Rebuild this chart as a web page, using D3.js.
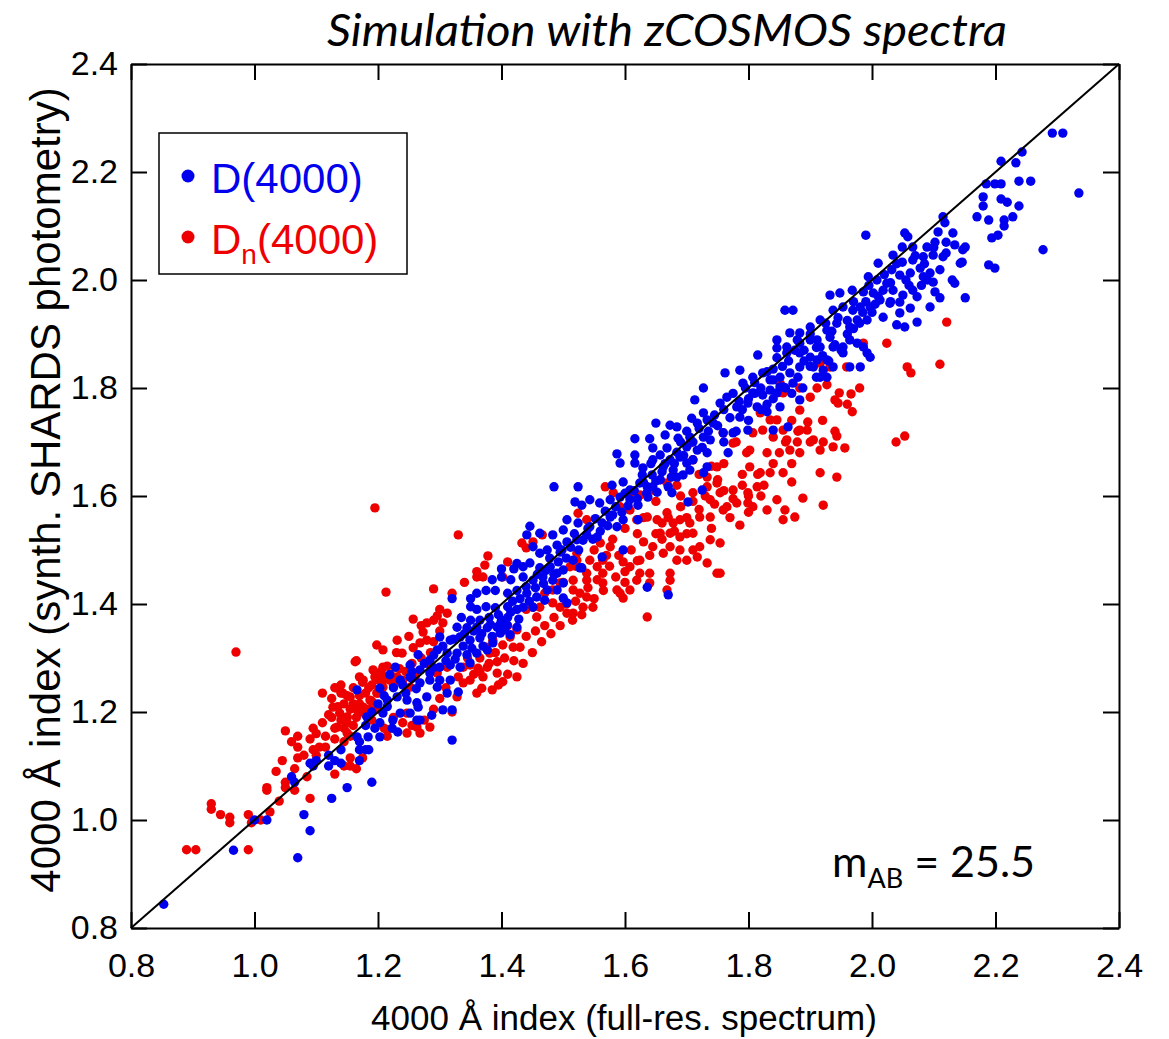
<!DOCTYPE html>
<html>
<head>
<meta charset="utf-8">
<script src="https://cdn.jsdelivr.net/npm/d3@7"></script>
<style>
body { margin: 0; background: #fff; }
</style>
</head>
<body>
<div id="chart"></div>
<script>
// Tick values for both axes
var xTicks = [0.8, 1.0, 1.2, 1.4, 1.6, 1.8, 2.0, 2.2, 2.4];
var yTicks = [0.8, 1.0, 1.2, 1.4, 1.6, 1.8, 2.0, 2.2, 2.4];

// Legend labels
var legendLabels = ["D(4000)", "Dn(4000)"];

// D(4000): [full-res spectrum, synth. SHARDS photometry]
var d4000 = [
  [0.853,0.844],[0.966,0.944],[1.00,1.00],[1.02,1.00],[1.07,0.93],[1.08,1.01],[1.09,0.98],[1.125,1.04],[1.15,1.06],[1.19,1.07],
  [1.06,1.08],[1.065,1.07],[1.09,1.105],[1.10,1.11],[1.095,1.10],[1.12,1.12],[1.12,1.10],[1.13,1.11],[1.14,1.105],[1.14,1.13],
  [1.17,1.145],[1.17,1.13],[1.17,1.11],[1.18,1.13],[1.185,1.13],
  [1.425,1.475],[1.40,1.465],[1.42,1.465],[1.385,1.445],[1.40,1.45],[1.415,1.445],
  [1.32,1.41],[1.35,1.41],[1.36,1.42],[1.375,1.425],[1.39,1.425],[1.41,1.42],[1.425,1.425],
  [1.35,1.395],[1.36,1.39],[1.375,1.395],[1.39,1.393],[1.41,1.395],[1.425,1.39],
  [1.335,1.375],[1.35,1.37],[1.365,1.37],[1.38,1.375],[1.40,1.37],[1.41,1.375],
  [1.328,1.357],[1.344,1.356],[1.36,1.357],[1.377,1.356],[1.393,1.357],[1.409,1.361],[1.425,1.357],
  [1.30,1.339],[1.317,1.333],[1.333,1.339],[1.349,1.333],[1.365,1.337],[1.386,1.328],[1.398,1.346],[1.414,1.343],
  [1.296,1.315],[1.312,1.309],[1.328,1.309],[1.344,1.306],[1.36,1.309],[1.377,1.315],
  [1.265,1.306],[1.284,1.296],[1.30,1.283],[1.317,1.287],[1.333,1.283],[1.349,1.291],
  [1.228,1.283],[1.252,1.287],[1.268,1.278],[1.284,1.272],[1.30,1.259],[1.317,1.259],[1.33,1.237],
  [1.219,1.269],[1.236,1.259],[1.252,1.265],[1.268,1.254],[1.284,1.259],[1.296,1.246],[1.312,1.235],[1.305,1.204],
  [1.203,1.244],[1.215,1.222],[1.231,1.228],[1.247,1.222],[1.263,1.217],[1.279,1.228],
  [1.208,1.198],[1.224,1.185],[1.236,1.198],[1.252,1.198],[1.265,1.209],[1.268,1.185],[1.287,1.194],
  [1.182,1.191],[1.203,1.18],[1.223,1.17],[1.232,1.163],[1.263,1.185],[1.166,1.154],[1.184,1.154],[1.203,1.154],
  [1.166,1.241],[1.32,1.204],[1.32,1.148],
  [1.713,1.778],[1.708,1.744],[1.717,1.735],[1.65,1.735],[1.673,1.731],[1.684,1.728],
  [1.665,1.713],[1.686,1.707],[1.705,1.709],
  [1.616,1.706],[1.64,1.706],[1.645,1.689],[1.668,1.689],[1.684,1.681],[1.70,1.691],[1.717,1.685],
  [1.587,1.678],[1.592,1.661],[1.616,1.676],[1.616,1.661],[1.629,1.652],[1.645,1.667],[1.657,1.676],[1.673,1.667],[1.689,1.672],[1.70,1.661],[1.71,1.667],
  [1.628,1.639],[1.644,1.639],[1.662,1.654],[1.678,1.648],[1.684,1.635],[1.694,1.639],[1.705,1.648],
  [1.485,1.617],[1.524,1.617],[1.579,1.62],[1.597,1.626],[1.608,1.611],[1.624,1.624],[1.636,1.617],[1.645,1.617],[1.657,1.63],[1.67,1.617],
  [1.519,1.589],[1.53,1.583],[1.543,1.593],[1.559,1.587],[1.576,1.593],[1.592,1.598],[1.608,1.593],[1.621,1.583],[1.637,1.598],[1.652,1.607],
  [1.676,1.606],[1.702,1.589],[1.725,1.611],
  [1.506,1.556],[1.524,1.55],[1.543,1.543],[1.563,1.55],[1.576,1.561],[1.597,1.556],[1.621,1.556],[1.587,1.543],[1.555,1.524],[1.538,1.528],[1.522,1.519],
  [1.446,1.544],[1.441,1.528],[1.462,1.531],[1.483,1.528],[1.50,1.537],[1.506,1.515],[1.49,1.509],[1.474,1.50],[1.462,1.494],[1.451,1.506],[1.495,1.496],[1.516,1.481],[1.527,1.467],[1.563,1.487],[1.597,1.50],
  [1.435,1.469],[1.446,1.476],[1.462,1.467],[1.479,1.469],[1.49,1.457],[1.50,1.463],[1.435,1.45],[1.451,1.444],[1.467,1.45],[1.483,1.444],
  [1.50,1.439],[1.441,1.42],[1.457,1.413],[1.474,1.426],[1.49,1.426],[1.47,1.407],[1.50,1.411],[1.506,1.402],[1.435,1.394],[1.451,1.394],
  [1.636,1.431],[1.67,1.417],[1.53,1.467],
  [1.99,2.083],[2.053,2.087],[2.058,2.08],[2.107,2.089],[2.118,2.106],[2.131,2.087],[2.134,2.065],[2.143,2.031],[2.134,1.994],
  [2.049,2.061],[2.066,2.061],[2.089,2.061],[2.102,2.07],[2.115,2.043],[2.099,2.046],[2.083,2.043],[2.066,2.037],[2.049,2.033],[2.034,2.046],
  [2.01,2.031],[2.032,2.019],[2.045,2.009],[2.062,2.013],[2.078,2.022],[2.094,2.013],[2.11,2.019],[2.099,1.996],[2.083,2.006],
  [1.994,2.006],[2.008,2.00],[2.024,1.994],[2.018,1.981],[2.034,1.981],[2.05,1.972],[2.066,1.981],[2.102,1.978],[2.11,1.967],[2.073,1.969],[2.094,1.95],
  [1.932,1.972],[1.948,1.976],[1.968,1.981],[1.986,1.978],[2.002,1.976],[2.013,1.963],[2.029,1.957],[2.045,1.959],[2.062,1.948],[2.018,1.931],[2.045,1.939],[2.04,1.917],[2.053,1.913],[2.073,1.922],
  [1.859,1.944],[1.872,1.944],
  [1.916,1.926],[1.937,1.944],[1.953,1.95],[1.969,1.944],[1.981,1.95],[1.997,1.95],[1.976,1.926],[1.992,1.926],[1.943,1.92],[1.964,1.913],[1.927,1.907],[1.90,1.913],[1.883,1.902],[1.867,1.902],[1.879,1.889],
  [1.846,1.889],[1.846,1.874],[1.862,1.876],[1.883,1.883],[1.90,1.889],[1.911,1.889],[1.916,1.876],[1.932,1.894],[1.937,1.876],[1.953,1.876],[1.964,1.889],[1.976,1.883],[1.986,1.876],[1.992,1.865],[1.997,1.857],[1.953,1.865],
  [1.815,1.861],[1.846,1.856],[1.862,1.865],[1.883,1.865],[1.90,1.857],[1.911,1.852],[1.927,1.852],[1.937,1.839],[1.921,1.833],[1.905,1.839],[1.883,1.839],[1.867,1.828],[1.851,1.82],[1.835,1.815],
  [1.786,1.833],[1.807,1.82],[1.823,1.828],[1.84,1.815],[1.856,1.802],[1.872,1.809],[1.888,1.80],[1.916,1.82],[1.927,1.82],[1.964,1.839],[1.981,1.839],
  [1.762,1.828],[1.791,1.809],[1.807,1.791],[1.823,1.787],[1.835,1.796],[1.846,1.791],[1.851,1.802],[1.765,1.783],[1.781,1.765],[1.799,1.772],
  [1.814,1.765],[1.83,1.756],[1.754,1.772],[1.786,1.746],[1.799,1.722],[1.775,1.717],[1.759,1.717],[1.743,1.735],[1.727,1.754],[1.733,1.741],
  [1.727,1.709],[1.738,1.704],[1.851,1.765],[1.864,1.728],[1.84,1.722],[1.883,1.778],[1.727,1.80],
  [1.767,1.68],[1.733,1.68],[1.733,1.654],[1.727,1.643],
  [2.292,2.272],[2.309,2.272],[2.243,2.237],[2.209,2.22],[2.233,2.217],[2.185,2.178],[2.199,2.178],[2.209,2.178],[2.238,2.183],[2.257,2.183],
  [2.335,2.161],[2.18,2.154],[2.18,2.137],[2.209,2.15],[2.219,2.144],[2.238,2.137],[2.17,2.117],[2.189,2.111],[2.214,2.111],[2.214,2.10],
  [2.228,2.117],[2.194,2.078],[2.204,2.083],[2.277,2.056],[2.189,2.028],[2.199,2.022],[2.115,2.117],[2.147,2.056],[2.151,2.061],[2.146,2.033],[2.151,1.967],
  // dense core of the band
  [1.255,1.262],[1.262,1.243],[1.275,1.29],[1.29,1.282],[1.29,1.305],[1.305,1.322],[1.31,1.295],[1.322,1.335],[1.325,1.298],[1.338,1.322],
  [1.34,1.345],[1.352,1.318],[1.355,1.35],[1.368,1.345],[1.37,1.322],[1.382,1.362],[1.385,1.34],[1.395,1.38],[1.398,1.363],[1.405,1.352],
  [1.415,1.385],[1.418,1.405],[1.428,1.372],[1.43,1.41],[1.44,1.432],[1.445,1.405],[1.455,1.43],[1.458,1.455],[1.468,1.438],[1.472,1.462],
  [1.478,1.485],[1.485,1.455],[1.492,1.478],[1.498,1.5],[1.505,1.485],[1.512,1.505],[1.518,1.53],[1.525,1.5],[1.532,1.518],[1.54,1.54],
  [1.548,1.52],[1.552,1.558],[1.56,1.535],[1.568,1.572],[1.572,1.545],[1.58,1.565],[1.585,1.58],[1.595,1.57],[1.6,1.605],[1.605,1.582],
  [1.615,1.61],[1.62,1.595],[1.63,1.625],[1.635,1.605],[1.642,1.66],[1.65,1.628],[1.66,1.645],[1.665,1.66],[1.675,1.635],[1.68,1.66],
  [1.69,1.7],[1.695,1.675],[1.7,1.72],[1.71,1.7],[1.72,1.725],[1.725,1.69],[1.735,1.72],[1.745,1.75],[1.75,1.73],[1.76,1.76],
  [1.77,1.745],[1.775,1.79],[1.785,1.775],[1.795,1.8],[1.8,1.78],[1.81,1.81],[1.82,1.8],[1.83,1.83],[1.84,1.835],[1.855,1.84],
  [1.865,1.85],[1.875,1.87],[1.89,1.87],[1.9,1.9],[1.91,1.875],[1.925,1.92],[1.935,1.905],[1.945,1.93],[1.96,1.925],[1.97,1.96],
  [1.985,1.94],[1.995,1.99],[2.005,1.955],[2.02,2.01],[2.03,1.995],[2.04,2.03],[2.055,2.0],[2.07,2.045],[2.085,2.03],[2.1,2.06],[2.12,2.07],
  [1.19,1.2],[1.2,1.215],[1.21,1.23],[1.225,1.245],[1.24,1.25],[1.245,1.235],[1.255,1.275],[1.18,1.175],[1.195,1.17],[1.215,1.21],
  // lower edge of the band at the high end
  [1.76,1.7],[1.78,1.72],[1.8,1.74],[1.82,1.76],[1.84,1.78],[1.86,1.8],[1.88,1.82],[1.9,1.84],[1.92,1.86],[1.94,1.88],
  [1.96,1.9],[1.98,1.92],[2.0,1.94],[1.79,1.76],[1.81,1.79],[1.83,1.77],[1.87,1.79],[1.89,1.85],[1.91,1.82],[1.93,1.85],
  [1.95,1.87],[1.97,1.91],[1.99,1.96],[2.01,1.97],[2.03,1.96],[2.06,1.99],[2.08,1.99],[2.09,2.0],[2.12,2.05],[2.13,2.0]
];

// Dn(4000): [full-res spectrum, synth. SHARDS photometry]
var dn4000 = [
  [0.89,0.945],[0.905,0.945],[0.99,0.945],[0.93,1.03],[0.93,1.02],[0.945,1.01],[0.96,1.005],[0.96,0.995],[0.99,1.01],[0.995,0.995],
  [1.01,1.00],[1.025,1.015],[1.04,1.035],[1.02,1.06],[1.02,1.055],[1.035,1.09],[1.045,1.11],[1.05,1.165],[1.06,1.145],[1.07,1.155],
  [1.07,1.135],[1.07,1.115],[1.05,1.07],[1.05,1.06],[1.065,1.095],[1.065,1.055],[1.09,1.04],[1.085,1.08],[1.095,1.17],[1.095,1.13],
  [1.11,1.235],[1.11,1.18],[1.115,1.155],[1.105,1.135],[1.115,1.135],[1.12,1.195],[1.13,1.085],[1.145,1.10],[1.155,1.10],[1.165,1.095],
  [1.145,1.145],[1.175,1.115],[1.155,1.115],[0.97,1.311],
  [1.13,1.245],[1.14,1.235],[1.135,1.21],[1.145,1.215],[1.15,1.23],[1.155,1.205],[1.15,1.19],[1.13,1.17],[1.145,1.17],[1.15,1.18],
  [1.155,1.155],[1.16,1.215],[1.17,1.23],[1.175,1.255],[1.185,1.245],[1.175,1.20],[1.165,1.19],[1.185,1.205],[1.19,1.22],[1.20,1.235],
  [1.20,1.26],[1.21,1.265],[1.20,1.205],[1.165,1.295],[1.215,1.285],[1.215,1.155],[1.21,1.17],
  [1.195,1.578],[1.33,1.528],[1.213,1.422],[1.29,1.428],[1.257,1.372],[1.296,1.378],[1.312,1.383],[1.378,1.489],[1.373,1.472],[1.36,1.45],
  [1.37,1.45],[1.41,1.478],[1.402,1.45],[1.433,1.513],[1.44,1.504],[1.451,1.515],[1.466,1.528],[1.524,1.568],[1.538,1.556],[1.522,1.494],
  [1.425,1.352],[1.414,1.339],[1.419,1.32],[1.402,1.324],[1.386,1.333],[1.381,1.309],[1.393,1.293],[1.377,1.283],[1.362,1.281],[1.349,1.287],[1.338,1.283],
  [1.385,1.241],[1.368,1.244],[1.36,1.235],[1.349,1.259],[1.338,1.254],[1.328,1.228],[1.393,1.272],[1.32,1.20],[1.284,1.172],[1.263,1.172],
  [1.247,1.198],[1.312,1.283],[1.296,1.272],
  [1.134,1.244],[1.143,1.235],[1.155,1.228],[1.138,1.198],[1.15,1.191],[1.166,1.204],[1.176,1.209],[1.187,1.222],[1.198,1.235],[1.208,1.246],
  [1.219,1.259],[1.231,1.265],[1.24,1.259],[1.252,1.246],[1.192,1.204],[1.208,1.259],[1.134,1.172],[1.15,1.161],[1.127,1.209],[1.215,1.167],
  [1.247,1.161],[1.268,1.161],
  [1.198,1.324],[1.208,1.315],[1.231,1.333],[1.239,1.309],[1.257,1.319],[1.268,1.328],[1.279,1.333],
  [1.163,1.293],[1.176,1.259],[1.192,1.278],[1.208,1.283],
  [1.279,1.365],[1.273,1.348],[1.365,1.274],[1.37,1.265],[1.402,1.256],[1.425,1.265],
  [1.568,1.617],[1.581,1.606],[1.608,1.598],[1.624,1.602],[1.645,1.611],[1.657,1.63],[1.668,1.624],[1.684,1.62],[1.71,1.606],[1.733,1.617],[1.749,1.624],
  [1.705,1.698],[1.71,1.667],[1.738,1.593],[1.754,1.606],[1.775,1.611],[1.799,1.606],[1.814,1.617],[1.83,1.574],[1.846,1.593],[1.781,1.587],[1.765,1.58],
  [1.799,1.587],[1.807,1.58],[1.759,1.574],[1.738,1.561],[1.721,1.561],[1.705,1.55],[1.689,1.556],
  [1.668,1.569],[1.678,1.55],[1.652,1.556],[1.636,1.561],[1.619,1.556],[1.608,1.574],[1.592,1.58],[1.657,1.531],[1.673,1.531],[1.689,1.524],
  [1.71,1.531],[1.721,1.506],[1.738,1.519],[1.754,1.513],[1.786,1.546],
  [1.645,1.506],[1.662,1.494],[1.684,1.481],[1.70,1.481],[1.717,1.487],[1.733,1.476],[1.749,1.457],[1.754,1.457],[1.673,1.506],[1.689,1.50],[1.71,1.50],
  [1.597,1.478],[1.608,1.469],[1.624,1.481],[1.624,1.457],[1.64,1.457],[1.619,1.444],[1.608,1.426],[1.592,1.42],[1.673,1.457],[1.673,1.444],
  [1.668,1.426],[1.636,1.376],[1.64,1.439],
  [1.56,1.513],[1.576,1.506],[1.564,1.481],[1.543,1.481],[1.555,1.469],[1.564,1.457],[1.564,1.439],[1.522,1.481],[1.511,1.469],[1.538,1.457],
  [1.538,1.444],[1.516,1.444],[1.495,1.439],[1.483,1.426],[1.516,1.426],[1.527,1.42],[1.538,1.413],[1.548,1.394],[1.532,1.394],[1.516,1.383],
  [1.506,1.383],[1.495,1.394],[1.483,1.402],[1.462,1.394],[1.451,1.394],[1.457,1.376],[1.587,1.426],[1.597,1.411],
  [2.121,1.922],[2.024,1.883],[2.057,1.839],[2.063,1.828],[2.11,1.844],[2.039,1.70],[2.053,1.711],[1.959,1.839],[1.932,1.839],[1.916,1.846],[1.986,1.883],
  [1.927,1.806],[1.911,1.80],[1.883,1.80],[1.856,1.791],[1.851,1.809],
  [1.947,1.791],[1.966,1.789],[1.94,1.778],[1.945,1.772],[1.968,1.756],[1.90,1.783],[1.883,1.759],[1.896,1.737],[1.883,1.722],[1.895,1.722],
  [1.943,1.711],[1.956,1.689],[1.921,1.70],[1.937,1.691],[1.916,1.685],[1.905,1.704],[1.879,1.70],[1.883,1.68],[1.867,1.685],[1.856,1.722],
  [1.84,1.709],[1.823,1.722],[1.807,1.717],[1.819,1.754],[1.835,1.741],[1.846,1.741],[1.862,1.704],[1.856,1.643],[1.835,1.643],[1.819,1.643],
  [1.802,1.654],[1.797,1.68],[1.802,1.685],[1.775,1.698],[1.759,1.717],[1.749,1.654],[1.733,1.635],[1.916,1.643],[1.943,1.635],
  [1.859,1.574],[1.856,1.556],[1.875,1.561],[1.888,1.596],[1.921,1.583],[1.87,1.626],
  // dense lower-left cluster
  [1.125,1.225],[1.14,1.25],[1.16,1.245],[1.17,1.265],[1.18,1.235],[1.19,1.25],[1.195,1.265],[1.205,1.275],[1.22,1.27],[1.225,1.25],
  [1.235,1.28],[1.245,1.275],[1.255,1.29],[1.26,1.265],[1.27,1.3],[1.28,1.29],[1.285,1.31],[1.29,1.33],[1.3,1.35],[1.305,1.365],
  [1.17,1.215],[1.18,1.195],[1.16,1.175],[1.14,1.185],[1.125,1.19],[1.13,1.15],[1.19,1.185],[1.225,1.19],[1.24,1.18],[1.255,1.175],
  [1.275,1.185],[1.29,1.205],[1.3,1.225],[1.31,1.245],[1.1,1.16],[1.09,1.15],[1.08,1.12],[1.1,1.12],
  [1.3,1.39],[1.32,1.42],[1.34,1.44],[1.29,1.37],[1.36,1.46],[1.25,1.34],[1.27,1.36],[1.23,1.31],
  // below the band
  [1.33,1.265],[1.345,1.3],[1.355,1.27],[1.365,1.3],[1.375,1.32],[1.38,1.29],[1.39,1.31],[1.395,1.25],[1.405,1.3],[1.41,1.27],
  [1.42,1.295],[1.43,1.32],[1.435,1.29],[1.44,1.34],[1.45,1.31],[1.455,1.35],[1.465,1.33],[1.47,1.36],[1.48,1.345],[1.485,1.375],
  [1.495,1.36],[1.505,1.4],[1.515,1.37],[1.52,1.405],[1.53,1.38],[1.54,1.43],[1.55,1.41],[1.555,1.445],[1.565,1.425],[1.575,1.47],
  [1.585,1.45],[1.59,1.49],[1.6,1.46],[1.61,1.5],[1.62,1.48],[1.63,1.515],[1.64,1.49],[1.65,1.53],[1.66,1.52],[1.67,1.56],
  [1.68,1.535],[1.69,1.58],[1.7,1.56],[1.71,1.59],[1.72,1.575],[1.73,1.6],[1.745,1.585],[1.76,1.61],[1.775,1.595],[1.79,1.62],
  [1.8,1.6],[1.815,1.64],[1.825,1.62],[1.84,1.66],[1.85,1.68],[1.87,1.66],[1.88,1.72],[1.9,1.7],[1.92,1.74],[1.94,1.72],
  [1.96,1.77],[1.98,1.8],[1.87,1.74],[1.76,1.66],[1.78,1.7],[1.72,1.64],[1.74,1.655],[1.65,1.59],[1.63,1.56],[1.58,1.52],
  [1.55,1.5],[1.52,1.47],[1.5,1.44],[1.47,1.42],[1.44,1.39],[1.41,1.36],
  [1.62,1.53],[1.66,1.55],[1.7,1.53],[1.74,1.54],[1.77,1.56],[1.8,1.57],[1.82,1.6],[1.69,1.6],[1.75,1.63],[1.79,1.64],
  [1.83,1.68],[1.86,1.7],[1.6,1.54],[1.57,1.49],[1.6,1.44]
];

var blue = "#0000ee";
var red = "#ee0000";
var sans = "'Liberation Sans', Arial, sans-serif";
var humanist = "Lato, 'Open Sans', sans-serif";

//Create chart space
var svgWidth = 1169;
var svgHeight = 1039;

var margin = { top: 64, right: 50, bottom: 111, left: 131 };

var width = svgWidth - margin.left - margin.right;
var height = svgHeight - margin.top - margin.bottom;

var svg = d3.select("#chart")
    .append("svg")
    .attr("width", svgWidth)
    .attr("height", svgHeight);

var chartGroup = svg.append("g")
    .attr("transform", `translate(${margin.left}, ${margin.top})`);

//Scales
var xScale = d3.scaleLinear().domain([0.8, 2.4]).range([0, width]);
var yScale = d3.scaleLinear().domain([0.8, 2.4]).range([height, 0]);

//Axes, ticks pointing inward on all four sides
var bottomAxis = d3.axisBottom(xScale).tickValues(xTicks).tickFormat(d3.format(".1f"))
    .tickSizeInner(-16).tickSizeOuter(0).tickPadding(25);
var leftAxis = d3.axisLeft(yScale).tickValues(yTicks).tickFormat(d3.format(".1f"))
    .tickSizeInner(-16).tickSizeOuter(0).tickPadding(13);
var topAxis = d3.axisTop(xScale).tickValues(xTicks).tickFormat("")
    .tickSizeInner(-16).tickSizeOuter(0);
var rightAxis = d3.axisRight(yScale).tickValues(yTicks).tickFormat("")
    .tickSizeInner(-16).tickSizeOuter(0);

chartGroup.append("g").attr("class", "axis")
    .attr("transform", `translate(0, ${height})`).call(bottomAxis);
chartGroup.append("g").attr("class", "axis").call(leftAxis);
chartGroup.append("g").attr("class", "axis").call(topAxis);
chartGroup.append("g").attr("class", "axis")
    .attr("transform", `translate(${width}, 0)`).call(rightAxis);

chartGroup.selectAll(".axis path, .axis line")
    .attr("stroke", "#000")
    .attr("stroke-width", 2);
chartGroup.selectAll(".axis text")
    .style("font-family", sans)
    .style("font-size", "34px")
    .attr("fill", "#000");

//Data points: red first, blue on top
chartGroup.append("g").selectAll("circle")
    .data(dn4000).enter()
    .append("circle")
    .attr("cx", d => xScale(d[0]))
    .attr("cy", d => yScale(d[1]))
    .attr("r", 4.7)
    .attr("fill", red);

chartGroup.append("g").selectAll("circle")
    .data(d4000).enter()
    .append("circle")
    .attr("cx", d => xScale(d[0]))
    .attr("cy", d => yScale(d[1]))
    .attr("r", 4.7)
    .attr("fill", blue);

//One-to-one line
chartGroup.append("line")
    .attr("x1", xScale(0.8)).attr("y1", yScale(0.8))
    .attr("x2", xScale(2.4)).attr("y2", yScale(2.4))
    .attr("stroke", "#000")
    .attr("stroke-width", 2);

//Legend box
var legend = svg.append("g");
legend.append("rect")
    .attr("x", 159).attr("y", 133)
    .attr("width", 248).attr("height", 141)
    .attr("fill", "#fff")
    .attr("stroke", "#000")
    .attr("stroke-width", 1.5);

legend.append("circle").attr("cx", 188).attr("cy", 176).attr("r", 6.5).attr("fill", blue);
legend.append("text")
    .attr("x", 211).attr("y", 193)
    .style("font-family", sans)
    .style("font-size", "42px")
    .attr("fill", blue)
    .text(legendLabels[0]);

legend.append("circle").attr("cx", 188).attr("cy", 237).attr("r", 6.5).attr("fill", red);
var dnText = legend.append("text")
    .attr("x", 211).attr("y", 254)
    .style("font-family", sans)
    .style("font-size", "42px")
    .attr("fill", red);
dnText.append("tspan").text(legendLabels[1].slice(0, 1));
dnText.append("tspan").attr("dy", 10).style("font-size", "28px").text(legendLabels[1].slice(1, 2));
dnText.append("tspan").attr("dy", -10).text(legendLabels[1].slice(2));

//Magnitude annotation
var magText = svg.append("text")
    .attr("x", 832).attr("y", 877)
    .style("font-family", humanist)
    .style("font-size", "43px")
    .attr("fill", "#000");
magText.append("tspan").text("m");
magText.append("tspan").attr("dy", 11).style("font-size", "27px").text("AB");
magText.append("tspan").attr("dy", -11).text(" = 25.5");

//Title
svg.append("text")
    .attr("x", 667).attr("y", 46)
    .attr("text-anchor", "middle")
    .attr("textLength", 680)
    .attr("lengthAdjust", "spacingAndGlyphs")
    .style("font-family", humanist)
    .style("font-style", "italic")
    .style("font-size", "44px")
    .attr("fill", "#000")
    .text("Simulation with zCOSMOS spectra");

//Axis labels
svg.append("text")
    .attr("x", 624).attr("y", 1030)
    .attr("text-anchor", "middle")
    .style("font-family", sans)
    .style("font-size", "35px")
    .attr("fill", "#000")
    .text("4000 Å index (full-res. spectrum)");

svg.append("text")
    .attr("transform", "translate(60, 490) rotate(-90)")
    .attr("text-anchor", "middle")
    .style("font-family", sans)
    .style("font-size", "42px")
    .attr("fill", "#000")
    .text("4000 Å index (synth. SHARDS photometry)");
</script>
</body>
</html>
